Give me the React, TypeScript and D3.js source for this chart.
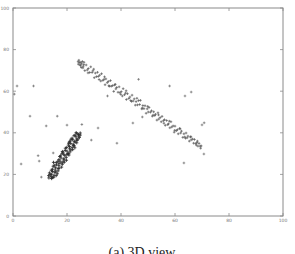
import React from "react";
import * as d3 from "d3";

// Tick values
const xTicks = [0, 20, 40, 60, 80, 100];
const yTicks = [0, 20, 40, 60, 80, 100];

// Elongated diagonal cluster (descending)
const lineCluster: [number, number][] = [
  [24.1,74.2],[24.4,74.9],[24.8,72.7],[25.1,73.9],[25.3,71.4],[25.7,74.3],[26.0,72.0],[26.2,72.8],[26.6,69.9],[27.1,72.6],
  [27.5,70.2],[27.9,70.9],[28.4,69.0],[28.8,71.7],[29.3,69.0],[29.6,69.8],[30.1,66.5],[30.5,68.7],[30.9,67.0],[31.3,69.1],
  [31.6,67.1],[32.1,67.7],[32.5,64.9],[32.8,68.4],[33.3,65.2],[33.7,65.7],[34.1,63.1],[34.4,65.9],[34.9,64.1],[35.3,64.7],
  [35.7,62.4],[36.1,65.1],[36.4,62.4],[36.9,62.7],[37.3,59.9],[37.6,63.0],[38.1,61.1],[38.4,61.8],[38.9,59.5],[39.3,62.1],
  [39.6,59.3],[40.1,59.8],[40.5,57.7],[40.8,61.2],[41.3,58.3],[41.7,59.1],[42.0,56.0],[42.4,58.8],[42.9,56.5],[43.3,57.2],
  [43.6,55.5],[44.1,58.1],[44.5,55.3],[44.9,56.3],[45.3,53.3],[45.6,55.0],[46.1,53.4],[46.5,55.5],[46.9,53.6],[47.2,55.6],
  [47.7,51.5],[48.1,53.1],[48.5,51.6],[48.9,53.0],[49.3,49.4],[49.7,51.5],[50.1,50.0],[50.4,52.2],[50.9,49.9],[51.3,50.6],
  [51.6,48.0],[52.1,50.1],[52.5,48.3],[52.8,48.9],[53.3,46.1],[53.7,49.6],[54.0,46.6],[54.5,47.3],[54.9,45.3],[55.2,47.9],
  [55.7,45.8],[56.1,46.3],[56.4,43.6],[56.9,45.9],[57.3,43.9],[57.6,44.3],[58.1,42.4],[58.5,45.3],[58.8,42.8],[59.3,43.3],
  [59.7,40.3],[60.0,43.2],[60.5,41.0],[60.9,41.5],[61.2,39.5],[61.7,42.1],[62.1,39.9],[62.4,40.8],[62.9,37.8],[63.3,39.5],
  [63.6,38.0],[64.1,39.9],[64.5,37.6],[64.8,38.4],[65.3,36.0],[65.7,38.0],[66.0,36.6],[66.5,37.0],[66.9,35.0],[67.2,36.8],
  [67.7,34.8],[68.1,35.3],[68.5,33.6],[68.9,34.9],[69.3,33.6],[69.7,33.7],
  [24.6,73.8],[25.4,73.2],[25.0,72.3],[26.3,73.9],[24.2,73.0],[25.9,71.2],
  [27.8,68.8],[29.9,70.6],[31.9,65.6],[33.9,66.9],[35.5,62.6],[37.9,63.3],[39.9,58.5],[41.9,60.2],[43.9,55.1],[45.9,56.6],
  [47.9,51.9],[49.9,52.7],[51.9,48.5],[53.9,48.6],[55.9,44.6],[57.9,45.6],[59.9,41.2],[61.9,41.9],[63.9,37.4],[65.9,38.1],
  [67.9,34.1],[68.3,36.0],[69.5,32.6],
];

// Dense lower cluster (ascending)
const blobCluster: [number, number][] = [
  [14.3,18.0],[13.3,18.3],[15.1,18.7],[14.1,19.0],[13.2,19.4],[15.2,19.6],[14.3,20.1],[16.4,20.3],[13.5,20.7],[15.5,21.0],
  [14.6,21.4],[16.7,21.7],[15.6,22.1],[14.6,22.5],[16.7,22.8],[15.7,23.2],[18.0,23.5],[14.9,23.9],[17.0,24.2],[16.1,24.6],
  [18.3,24.9],[17.0,25.3],[16.0,25.7],[18.5,26.0],[17.4,26.4],[19.8,26.8],[17.0,27.1],[18.8,27.5],[17.8,27.9],[19.7,28.2],
  [17.3,28.6],[19.2,29.0],[20.7,29.3],[18.8,29.7],[20.3,30.1],[18.5,30.4],[21.1,30.8],[20.0,31.2],[19.3,31.5],[22.1,31.9],
  [21.0,32.3],[19.4,32.6],[21.9,33.0],[20.9,33.4],[22.7,33.7],[20.5,34.1],[22.3,34.5],[21.4,34.8],[23.6,35.2],[20.9,35.6],
  [22.7,35.9],[23.7,36.3],[22.1,36.7],[23.6,37.0],[21.9,37.4],[24.6,37.8],[23.3,38.1],[24.3,38.5],[23.0,38.9],[24.3,39.2],
  [23.7,39.6],[24.9,39.9],
  [14.7,18.5],[13.8,19.9],[15.9,21.2],[14.2,22.0],[17.1,23.0],[15.3,24.4],[17.8,25.5],[16.6,26.3],[18.9,27.0],[17.6,28.9],
  [20.0,29.6],[18.3,31.0],[21.4,31.7],[19.9,32.9],[22.4,33.9],[20.6,35.0],[23.0,35.5],[21.5,36.9],[24.1,37.0],[22.6,38.6],
  [24.9,38.9],[23.4,40.1],[16.0,19.4],[15.0,25.8],[19.0,25.9],[18.1,29.9],[20.6,29.9],[22.9,32.8],[21.2,36.0],
];

// Scattered noise points
const outliers: [number, number][] = [
  [0.5,58.6],[1.5,62.5],[7.6,62.5],[6.3,48],[16.4,48],[12.3,43.3],[20,43.7],[25.5,44],[31.5,42.3],[29,36.5],
  [38.5,35],[44.4,44.7],[47.9,47.6],[35,57.7],[46.5,65.7],[58,62.5],[63.7,57.7],[66,59.6],[70,43.8],[70.8,44.8],
  [70.7,29.8],[63.3,25.5],[3,25],[9.3,29],[9.7,26.4],[14.9,30.3],[10.5,18.7],
];

const W = 295, H = 254;
const left = 13, right = 283, top = 8, bottom = 216;

export default function App() {
  const x = d3.scaleLinear().domain([0, 100]).range([left, right]);
  const y = d3.scaleLinear().domain([0, 100]).range([bottom, top]);
  const axisColor = "#8a8a8a";
  const tickLen = 3;
  const drawPts = (pts: [number, number][], color: string, key: string, a: number, sw: number) =>
    pts.map(([px, py], i) => (
      <g key={key + i} stroke={color} strokeWidth={sw} strokeOpacity={0.85}>
        <line x1={x(px) - a} x2={x(px) + a} y1={y(py)} y2={y(py)} />
        <line x1={x(px)} x2={x(px)} y1={y(py) - a} y2={y(py) + a} />
      </g>
    ));
  return (
    <svg width={W} height={H} style={{ position: "absolute", left: 0, top: 0, background: "#fff" }}>
      <rect x={left} y={top} width={right - left} height={bottom - top} fill="none" stroke={axisColor} strokeWidth={1} />
      {xTicks.map((t) => (
        <g key={"x" + t}>
          <line x1={x(t)} x2={x(t)} y1={bottom} y2={bottom - tickLen} stroke={axisColor} strokeWidth={0.8} />
          <line x1={x(t)} x2={x(t)} y1={top} y2={top + tickLen} stroke={axisColor} strokeWidth={0.8} />
          <text x={x(t)} y={bottom + 6} fontSize={4.5} fill="#777" textAnchor="middle" fontFamily="DejaVu Sans">{t}</text>
        </g>
      ))}
      {yTicks.map((t) => (
        <g key={"y" + t}>
          <line x1={left} x2={left + tickLen} y1={y(t)} y2={y(t)} stroke={axisColor} strokeWidth={0.8} />
          <line x1={right} x2={right - tickLen} y1={y(t)} y2={y(t)} stroke={axisColor} strokeWidth={0.8} />
          <text x={left - 4} y={y(t) + 1.5} fontSize={4.5} fill="#777" textAnchor="end" fontFamily="DejaVu Sans">{t}</text>
        </g>
      ))}
      {drawPts(outliers, "#666", "o", 1.3, 0.8)}
      {drawPts(lineCluster, "#555", "l", 1.3, 0.8)}
      {drawPts(blobCluster, "#2a2a2a", "b", 1.6, 1)}
      <text x={142} y={257} fontSize={14} fill="#222" textAnchor="middle" fontFamily="Liberation Serif">(a) 3D view</text>
    </svg>
  );
}
